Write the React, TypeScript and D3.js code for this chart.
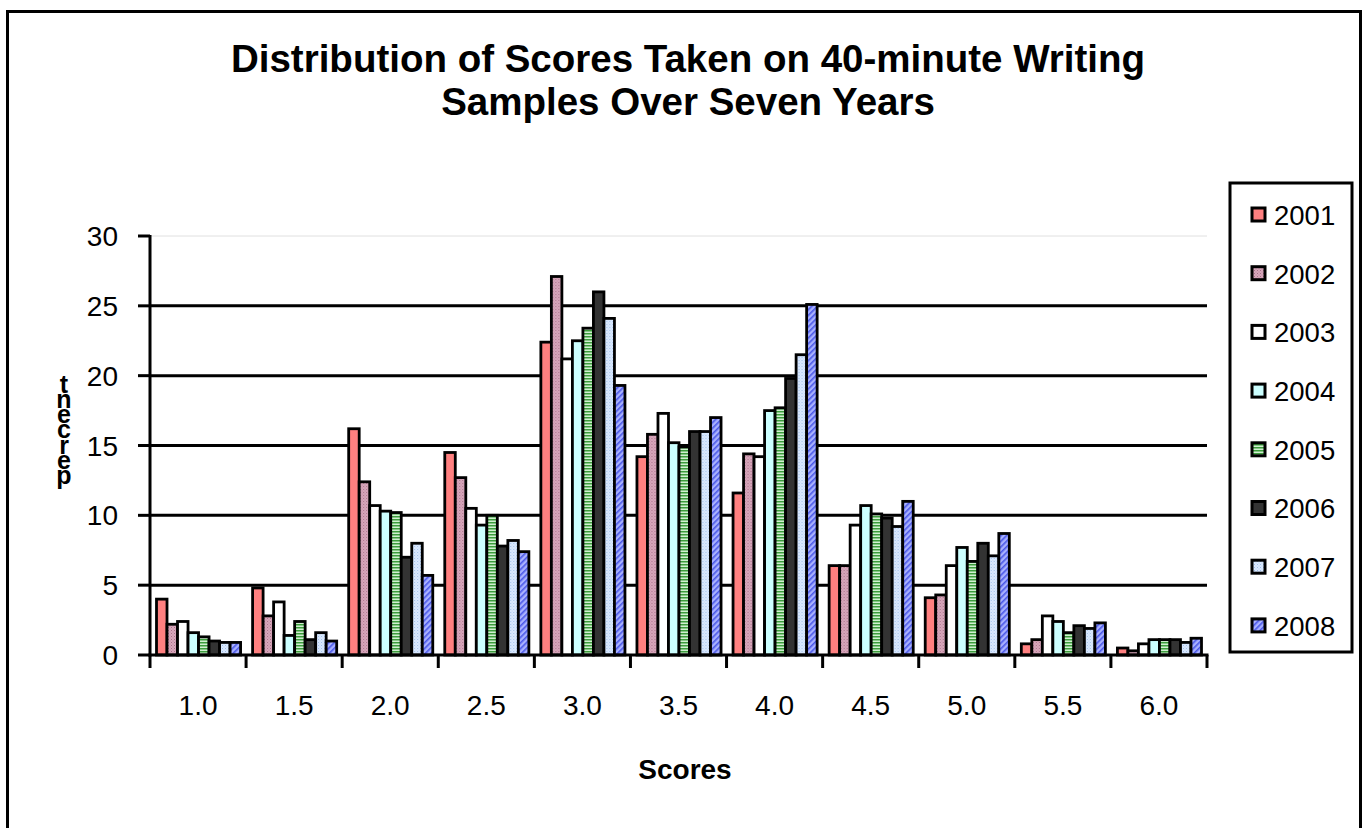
import React from 'react';
import * as d3 from 'd3';

// Score categories along the x axis
const scores = ['1.0', '1.5', '2.0', '2.5', '3.0', '3.5', '4.0', '4.5', '5.0', '5.5', '6.0'];
// One series per year
const years = ['2001', '2002', '2003', '2004', '2005', '2006', '2007', '2008'];

// Percent of samples at each score, per year
const pct2001 = [4.0, 4.8, 16.2, 14.5, 22.4, 14.2, 11.6, 6.4, 4.1, 0.8, 0.5];
const pct2002 = [2.2, 2.8, 12.4, 12.7, 27.1, 15.8, 14.4, 6.4, 4.3, 1.1, 0.3];
const pct2003 = [2.4, 3.8, 10.7, 10.5, 21.2, 17.3, 14.2, 9.3, 6.4, 2.8, 0.8];
const pct2004 = [1.6, 1.4, 10.3, 9.3, 22.5, 15.2, 17.5, 10.7, 7.7, 2.4, 1.1];
const pct2005 = [1.3, 2.4, 10.2, 10.0, 23.4, 14.9, 17.7, 10.1, 6.7, 1.6, 1.1];
const pct2006 = [1.0, 1.1, 7.0, 7.8, 26.0, 16.0, 19.8, 9.8, 8.0, 2.1, 1.1];
const pct2007 = [0.9, 1.6, 8.0, 8.2, 24.1, 16.0, 21.5, 9.2, 7.1, 1.9, 0.9];
const pct2008 = [0.9, 1.0, 5.7, 7.4, 19.3, 17.0, 25.1, 11.0, 8.7, 2.3, 1.2];

const seriesValues = [pct2001, pct2002, pct2003, pct2004, pct2005, pct2006, pct2007, pct2008];

const yTicks = [0, 5, 10, 15, 20, 25, 30];

// Fill per year (patterns defined in <defs>)
const fills = [
  '#FF8080',
  'url(#pat2002)',
  '#FFFFFF',
  '#CCFFFF',
  'url(#pat2005)',
  '#333333',
  'url(#pat2007)',
  'url(#pat2008)',
];

const W = 1363;
const H = 828;
const plotLeft = 150;
const plotRight = 1207;
const plotTop = 236;
const plotBottom = 655;

const FONT = 'Liberation Sans, Arial, Helvetica, sans-serif';

export default function App() {
  const x = d3.scaleBand<string>().domain(scores).range([plotLeft, plotRight]).padding(0);
  const bw = x.bandwidth();
  const xi = d3.scaleBand<string>().domain(years).range([6.5, bw - 5.5]).padding(0);
  const y = d3.scaleLinear().domain([0, 30]).range([plotBottom, plotTop]);

  const boundaries = scores.map((s) => x(s) as number).concat([plotRight]);

  const legendRows = years.map((yr, i) => ({ yr, i, cy: 215 + i * 58.7 }));

  // Letters of the y-axis title, stacked upright from bottom to top
  const yLabel = 'percent'.split('');

  return (
    <svg width={W} height={H} style={{ display: 'block', position: 'absolute', left: 0, top: 0 }}>
      <defs>
        <pattern id="pat2002" width="3" height="3" patternUnits="userSpaceOnUse">
          <rect width="3" height="3" fill="#D8A8BC" />
          <rect x="0" y="0" width="1" height="1" fill="#A87088" />
          <rect x="1.5" y="1.5" width="1" height="1" fill="#B88098" />
        </pattern>
        <pattern id="pat2005" width="4" height="3" patternUnits="userSpaceOnUse">
          <rect width="4" height="3" fill="#D0F0D0" />
          <rect x="0" y="0" width="4" height="1.5" fill="#3C9C3C" />
        </pattern>
        <pattern id="pat2007" width="3" height="3" patternUnits="userSpaceOnUse">
          <rect width="3" height="3" fill="#DCEAFF" />
          <rect x="0" y="0" width="1" height="1" fill="#9EBFEA" />
          <rect x="1.5" y="1.5" width="1" height="1" fill="#B4CFF2" />
        </pattern>
        <pattern id="pat2008" width="4" height="4" patternUnits="userSpaceOnUse" patternTransform="rotate(45)">
          <rect width="4" height="4" fill="#A8B0FF" />
          <rect x="0" y="0" width="1.6" height="4" fill="#4A58E8" />
        </pattern>
      </defs>

      <rect x={0} y={0} width={W} height={H} fill="#FFFFFF" />
      {/* outer chart frame */}
      <rect x={7.5} y={11.5} width={1353} height={830} fill="none" stroke="#000" strokeWidth={3} />

      {/* title */}
      <text x={688} y={72} textAnchor="middle" fontFamily={FONT} fontWeight="bold" fontSize={38.5} fill="#000">
        Distribution of Scores Taken on 40-minute Writing
      </text>
      <text x={688} y={115} textAnchor="middle" fontFamily={FONT} fontWeight="bold" fontSize={38.5} fill="#000">
        Samples Over Seven Years
      </text>

      {/* gridlines */}
      {yTicks.filter((t) => t > 0).map((t) => (
        <line
          key={'g' + t}
          x1={plotLeft}
          x2={plotRight}
          y1={y(t)}
          y2={y(t)}
          stroke={t === 30 ? '#E0E0E0' : '#000'}
          strokeWidth={t === 30 ? 1 : 3}
        />
      ))}

      {/* bars */}
      {scores.map((s, ci) => (
        <g key={s} transform={`translate(${x(s)},0)`}>
          {years.map((yr, si) => {
            const v = seriesValues[si][ci];
            return (
              <rect
                key={yr}
                x={xi(yr)}
                y={y(v)}
                width={xi.bandwidth()}
                height={y(0) - y(v)}
                fill={fills[si]}
                stroke="#000"
                strokeWidth={2.8}
              />
            );
          })}
        </g>
      ))}

      {/* y axis */}
      <line x1={plotLeft} x2={plotLeft} y1={plotTop - 1} y2={plotBottom + 1.5} stroke="#000" strokeWidth={3} />
      {yTicks.map((t) => (
        <g key={'yt' + t}>
          <line x1={plotLeft - 12} x2={plotLeft} y1={y(t)} y2={y(t)} stroke="#000" strokeWidth={3} />
          <text x={118} y={y(t)} dy="0.36em" textAnchor="end" fontFamily={FONT} fontSize={28} fill="#000">
            {t}
          </text>
        </g>
      ))}

      {/* x axis */}
      <line x1={plotLeft - 1.5} x2={plotRight + 1.5} y1={plotBottom} y2={plotBottom} stroke="#000" strokeWidth={3} />
      {boundaries.map((bx, i) => (
        <line key={'xt' + i} x1={bx} x2={bx} y1={plotBottom} y2={plotBottom + 13} stroke="#000" strokeWidth={3} />
      ))}
      {scores.map((s) => (
        <text
          key={'xl' + s}
          x={(x(s) as number) + bw / 2}
          y={715}
          textAnchor="middle"
          fontFamily={FONT}
          fontSize={28}
          fill="#000"
        >
          {s}
        </text>
      ))}

      {/* axis titles */}
      <text x={685} y={779} textAnchor="middle" fontFamily={FONT} fontWeight="bold" fontSize={28} fill="#000">
        Scores
      </text>
      <text fontFamily={FONT} fontWeight="bold" fontSize={25} fill="#000" textAnchor="middle">
        {yLabel.map((ch, i) => (
          <tspan key={'yl' + i} x={64} y={484 - i * 15.2}>
            {ch}
          </tspan>
        ))}
      </text>

      {/* legend */}
      <rect x={1230} y={183} width={122} height={469} fill="#FFFFFF" stroke="#000" strokeWidth={3} />
      {legendRows.map((r) => (
        <g key={'lg' + r.yr}>
          <rect x={1252} y={r.cy - 7} width={13} height={13} fill={fills[r.i]} stroke="#000" strokeWidth={3} />
          <text x={1274} y={r.cy} dy="0.36em" fontFamily={FONT} fontSize={27.5} fill="#000">
            {r.yr}
          </text>
        </g>
      ))}
    </svg>
  );
}
